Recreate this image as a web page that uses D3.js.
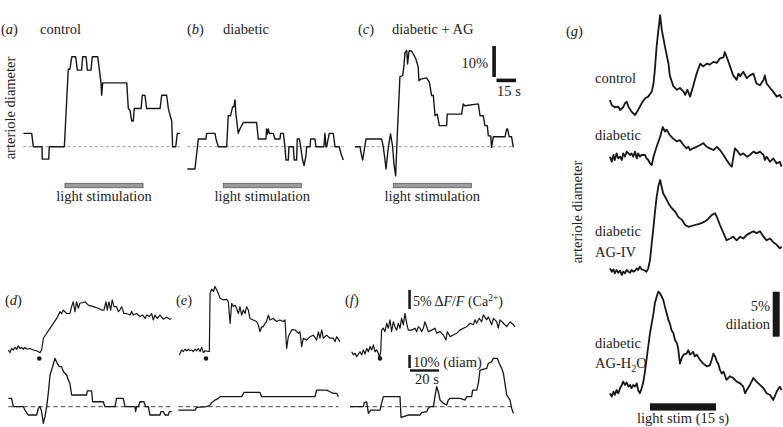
<!DOCTYPE html>
<html>
<head>
<meta charset="utf-8">
<script src="https://cdn.jsdelivr.net/npm/d3@7"></script>
<style>
  html, body { margin: 0; padding: 0; background: #fff; }
  svg { display: block; font-family: "Liberation Serif", "Times New Roman", serif; }
  text { fill: #222; font-size: 14.5px; }
</style>
</head>
<body>
<svg id="fig" width="783" height="427"></svg>
<script>
// ---- data: (a)-(c) arteriole diameter, [time s from light onset, % change] ----
const STIM_TOP = [0, 60];
const diamControl = [[-32,4.3],[-25.6,4.3],[-24.4,0],[-17.7,0],[-17.5,-4],[-12.5,-4],[-12.1,0],[-0.5,0],[2.5,25],[3.8,25],[5.2,29],[8.2,29],[9.5,24.7],[12.8,24.7],[13.6,29],[16.2,29],[17.2,24.7],[20,24.7],[21,29],[25.2,29],[27.7,20.6],[28.2,16.6],[29,20.6],[47.5,20.6],[48.7,12.3],[50,11.7],[51.3,8.3],[52.5,8.3],[53.3,12.3],[58.5,12.3],[59.5,16.6],[61.5,16.6],[62.8,12.3],[73.1,12.3],[74.4,16.6],[78.2,16.6],[79.5,12.3],[80.8,10.2],[82.1,8.3],[82.8,0],[85.2,0],[86.4,4.3],[88.5,4.3]];
const diamDiabetic = [[-27.7,-7.2],[-21.8,-7.2],[-19.2,2.5],[-13.3,2.5],[-12.8,4.3],[-6.4,4.3],[-5.6,2.5],[-3.8,0],[2.6,0],[3.8,10],[5.6,10],[7.2,12.9],[8.2,12.9],[9,15.1],[9.7,10.5],[11.5,4.3],[12.8,5.7],[15.4,7.8],[25.6,7.8],[26.9,2.5],[32.8,2.5],[33.3,5.7],[33.8,4.1],[34.6,5.7],[35.4,4.3],[38.5,4.3],[39.7,2.5],[43.6,2.5],[44.1,4.3],[46.2,4.3],[47.4,0],[48.2,-4.3],[50,-4.3],[50.5,0],[53.8,0],[54.6,-4.3],[56.4,-4.3],[56.9,2.5],[58.5,2.5],[59.5,0],[61,-4.3],[62.1,-6.1],[63.6,-2.9],[64.1,0],[66.7,0],[67.2,2.5],[70.5,2.5],[71.3,0],[77.4,0],[78.2,4.3],[79,0],[79.5,0],[81.5,4.3],[84.6,4.3],[85.9,0],[89.2,0],[90.5,-2.2],[92.3,-4.3]];
const diamDiabeticAG = [[-29.5,0],[-25.6,0],[-24.9,-1.8],[-23.6,-4.3],[-22.6,-1.8],[-21,2.5],[-9,2.5],[-7.7,0],[-6.4,-4.3],[-5.6,-7.2],[-3.8,0],[-2.1,4.1],[-0.5,0],[0.5,-5.6],[1.8,-9.4],[3.1,4.1],[5.1,22.6],[7.2,22.9],[8.2,26.1],[9,30.4],[10.3,31],[11,26.7],[11.8,29.9],[12.3,31],[14.1,30.8],[15.4,29.9],[17.4,28.3],[19.2,25.6],[19.7,21.3],[21,21.8],[25.6,22.2],[27.7,20.8],[29.5,16.5],[30.8,16.5],[32.1,10],[33.8,10.5],[35.4,6.8],[41,6.8],[41.5,10.5],[52.6,10.5],[53.8,13.8],[55.1,13.2],[65.4,13.8],[66.7,10],[69.2,10],[70.5,6.8],[72.3,6.8],[73.1,3.5],[74.9,3.5],[75.6,-0.2],[76.9,3.2],[85.9,3.2],[87.2,5.7],[87.9,5.7],[89.2,3.2],[91,3.2],[92.3,-0.2]];

// ---- data: (d)-(f) Ca2+ (ΔF/F %) and diameter (%), [time s from stim, value] ----
const caD = [[-21.4,0],[-20.2,-0.7],[-19.1,0.4],[-17.9,0],[-16.8,0.7],[-15.6,0.2],[-14.5,1.1],[-13.3,0.4],[-12.2,0.7],[-11,0.2],[-9.9,0.7],[-8.7,0.2],[-6.4,0.4],[-4.1,0],[-1.8,-0.2],[0.5,-0.7],[1.6,0],[2.8,3.1],[5.1,4.4],[7.4,5.7],[9.7,7],[12,8.3],[14.3,10.1],[15.4,9.6],[16.6,10.5],[18.9,9.6],[21.1,9.6],[22.3,11.4],[23.4,12.7],[24.6,10.1],[25.7,12.7],[26.9,11],[28,12.3],[30.3,12.5],[31.5,12.7],[33.8,11.8],[37.2,11.4],[40.7,11],[43,10.5],[44.6,10.5],[46,12.7],[46.9,10.5],[48,12.7],[49.2,10.5],[50.3,13.2],[51.5,11.4],[53.3,11.4],[54.5,10.1],[55.6,10.5],[56.8,11.4],[58.4,9.6],[60.2,9.6],[62.5,9.2],[63.7,10.1],[64.8,9.2],[67.1,9.6],[69.4,8.8],[71.3,9.2],[72.9,8.3],[74,9.2],[75.9,8.8],[77.5,9.6],[78.6,7.9],[79.8,9.2],[81.4,8.3],[83.2,9.2],[85.5,8.1],[87.8,8.6],[90.1,8.1],[91.3,8.3]];
const dmD = [[-21.4,6.4],[-19.1,6.4],[-17.9,0],[-11,0],[-9.9,-2.6],[-7.6,-6.4],[-1.8,-6.4],[-0.7,-1.3],[0.5,0],[1.6,-3.8],[2.8,-12.8],[3.9,-7.7],[5.1,0],[6.2,10.3],[7.4,24.4],[9.2,30.8],[10.8,37.2],[12.4,33.3],[13.8,30.8],[15.4,30.8],[16.6,26.9],[18.9,24.4],[20,20.5],[21.1,17.9],[22.3,9],[32.6,9],[33.1,12.1],[36.1,12.1],[36.8,3.8],[44.1,3.8],[45.3,0],[52.2,0],[53.3,6.4],[57.9,6.4],[59.1,0],[66,0],[66.4,-3.8],[67.1,0],[68.3,0],[69.4,3.8],[72.2,3.8],[73.3,0],[75.2,0],[76.3,-6.4],[83.2,-6.4],[83.9,-3.8],[85.5,-3.8],[86.7,-6.4],[89,-6.4],[89.7,-3.8],[91.3,-3.8]];
const caE = [[-18.4,-1.3],[-16.8,0],[-15.6,-0.4],[-14.5,0.2],[-13.3,-0.2],[-12.2,0.2],[-11,-0.2],[-9.9,0],[-8.7,-0.4],[-7.6,0.2],[-6.4,-0.2],[-5.3,0.4],[-4.1,-0.4],[-3,0.7],[-1.8,-0.7],[-0.7,-0.2],[1.6,-0.4],[2.3,-0.4],[2.8,14.9],[3.9,16],[5.1,15.4],[6.2,16.7],[7.4,15.8],[8.5,14.9],[9.7,13.6],[12,13.2],[14.3,13.3],[15.4,12.7],[16.6,7],[17.7,12.3],[18.9,11.4],[20,11.8],[21.1,11],[22.3,9.6],[23.4,11.4],[24.6,9.2],[25.7,10.5],[26.9,9.6],[28,11.4],[29.2,10.5],[30.3,8.3],[32.6,7.9],[34.9,7.5],[36.1,6.6],[37.2,4.8],[38.4,6.1],[39.5,6.1],[40.7,7],[41.8,7.5],[43,9.2],[44.1,7.9],[46.4,8.3],[48.7,7.5],[51,7.9],[53.3,7.5],[54.5,7.9],[55.6,0.4],[56.8,3.5],[57.9,4.4],[59.1,5.3],[61.4,5.3],[63.7,4.4],[64.8,4.8],[66,0.9],[67.1,3.1],[69.4,2.6],[71.7,3.5],[74,3.9],[76.3,2.6],[77.5,4.8],[78.6,3.1],[79.8,5.3],[80.9,3.1],[83.2,3.9],[85.5,3.1],[87.8,3.1],[89,2.2],[90.1,3.5],[92.4,2.2]];
const dmE = [[-19.1,-2.6],[-7.6,-2.6],[-6.4,-0.5],[0.5,0],[2.8,1.3],[3.9,3.1],[6.2,5.1],[8.5,6.4],[9.7,7.7],[24.6,7.7],[26.2,11],[37.2,11],[38.4,7.7],[75.2,7.7],[76.3,12.8],[83.2,12.8],[85.5,11.5],[87.8,10.3],[90.1,10.3],[91.3,7.7]];
const caF = [[-19.5,0.4],[-18.4,-0.4],[-17.2,0],[-16.1,-0.9],[-14.9,-0.2],[-13.8,0.4],[-12.6,-0.4],[-11.5,0.9],[-10.3,-0.2],[-9.2,1.3],[-8,0.4],[-6.9,1.8],[-5.7,0.9],[-4.6,2.2],[-3.4,0.4],[-2.3,0.9],[-1.1,0],[-0.5,-1.3],[0.5,0.4],[1.1,6.1],[2.3,6.6],[3.4,5.7],[4.6,7.9],[5.7,6.6],[6.9,8.8],[8,5.7],[9.2,8.3],[10.3,7],[11.5,6.1],[12.6,7.9],[13.8,6.6],[14.9,9.2],[16.1,7.5],[17.2,10.5],[18.4,7.9],[19.5,6.1],[21.8,6.1],[24.1,6.6],[25.3,5.7],[26.4,7],[27.6,6.6],[28.7,5.7],[29.9,6.6],[31,8.3],[32.2,7],[33.3,5.7],[35.6,6.1],[37.9,6.6],[39.1,5.3],[41.4,5.7],[43.7,4.8],[45.5,3.5],[46.4,5.7],[48.3,4.4],[50.6,4.8],[52.9,5.3],[55.2,6.1],[57.5,6.6],[59.8,7],[62.1,7.9],[64.4,7.5],[65.5,8.8],[66.7,7.9],[68.5,9.2],[70.1,8.3],[71.3,10.1],[73.6,8.8],[74.7,9.6],[77,7.5],[78.2,9.2],[80.5,8.3],[81.6,6.6],[82.8,8.8],[85.1,7.9],[87.4,7],[89.7,8.3],[92,7.5],[93.1,7]];
const dmF = [[-20.7,0],[-11.5,0],[-10.8,3.1],[-9.2,3.8],[-8,-5.1],[-6.4,-2.6],[0,-2.6],[1.1,2.6],[2.3,7.7],[13.8,7.7],[14.5,-8.2],[19.5,-6.4],[27.6,-6.4],[28.7,-4.6],[32.2,-3.8],[33.3,-1.3],[34.5,0],[36.8,0],[37.9,7.7],[39.1,15.4],[40.2,11.5],[41.4,5.1],[43.7,2.6],[46,1.3],[47.1,5.1],[48.3,6.4],[55.2,6.4],[58.6,5.1],[59.8,7.7],[63.2,7.7],[63.9,12.8],[66.7,12.8],[67.8,17.9],[69,28.2],[73.6,29.5],[74.7,33.3],[77,34.6],[78.2,37.2],[80.9,37.2],[82.3,33.3],[83.9,29.5],[85.1,25.6],[87.4,9],[89.7,5.1],[90.8,-1.3],[92,-5.1]];

// ---- data: (g) dilation (%), [time s from light onset, % change] ----
const STIM_G = [0, 15];
const gControl = [[-9.1,0.37],[-8.7,-0.19],[-8,-0.44],[-7.2,-0.37],[-6.8,-0.74],[-6.1,-0.44],[-5.7,0],[-5.3,0.19],[-4.9,-0.37],[-4.2,-0.93],[-3.4,-1.3],[-2.7,-0.74],[-1.9,0],[-1.1,0.56],[-0.4,0.74],[0.4,1.3],[0.8,2.2],[1.1,3.7],[1.5,6.3],[1.9,8.1],[2.3,9.8],[2.7,8.1],[3.4,6.3],[4.2,4.4],[4.5,3.1],[5.3,1.9],[6.1,1.5],[6.8,1.7],[7.6,1.3],[8,0.93],[8.5,1.5],[9.1,0.74],[9.8,1.9],[10.6,3.3],[11.4,4.4],[12.1,4.1],[12.9,4.4],[13.6,4.3],[14.4,4.6],[15.2,4.5],[15.9,5],[16.7,5.1],[17,5.7],[17.4,5.2],[18.2,4.1],[18.9,3.1],[19.7,2.6],[20.1,3.3],[20.5,3],[21.2,3.5],[22,2.8],[22.7,3.1],[23.5,3.3],[24.2,2.2],[25,2],[25.8,2.6],[26.1,3.1],[26.5,2.2],[27.3,1.7],[28,1.3],[28.8,0.74],[29.5,0.93],[29.9,0.56]];
const gDiabetic = [[-9.1,0],[-8.7,-0.56],[-8.3,0.19],[-8,-0.37],[-7.6,0.37],[-7.2,-0.19],[-6.8,0],[-6.4,-0.37],[-6.1,0.37],[-5.7,0],[-5.3,0.56],[-4.5,0.19],[-4.2,0.37],[-3.8,0],[-3.4,0.56],[-3,-0.19],[-2.7,0.37],[-2.3,0],[-1.9,0.19],[-1.1,0.19],[-0.8,-0.19],[-0.4,-0.37],[0,-0.74],[0.4,-0.93],[0.8,0],[1.5,1.1],[2.3,2.2],[2.9,3.3],[3.4,2.8],[3.8,3],[4.5,2.4],[5.3,2],[6.1,1.7],[6.8,1.85],[7.6,1.3],[8.3,0.93],[8.7,1.1],[9.1,0.74],[9.8,0.93],[10.6,1.1],[11.4,1.3],[12.1,1.5],[12.9,1.1],[13.6,0.93],[14.4,0.74],[15.2,1.1],[15.9,0.74],[16.7,0.19],[17.4,-0.37],[18.2,-0.93],[18.6,-1.1],[18.9,-0.19],[19.3,0.93],[19.7,0.74],[20.5,0.19],[21.2,0.37],[22,0],[22.7,0.19],[23.5,0.56],[24.2,0.37],[25,0.56],[25.8,0.19],[26.1,-0.37],[26.5,0],[27.3,-0.56],[28,-0.19],[28.8,-0.74],[29.5,-0.56],[29.9,-1.1]];
const gAgIV = [[-9.1,0.19],[-8.7,-0.19],[-8.3,0.07],[-8,-0.37],[-7.6,0],[-7.2,-0.3],[-6.8,-0.07],[-6.4,-0.56],[-6.1,-0.19],[-5.7,-0.37],[-5.3,0],[-4.9,-0.19],[-4.5,-0.3],[-4.2,0],[-3.8,-0.19],[-3.4,-0.07],[-3,0.19],[-2.7,0],[-2.3,0.37],[-1.9,0.07],[-1.5,0],[-1.1,-0.07],[-0.8,-0.19],[-0.4,0.19],[0,1.1],[0.4,3],[0.8,4.8],[1.1,6.3],[1.5,8.1],[1.9,9.3],[2.3,10],[3,8.5],[3.8,7.8],[4.2,7.4],[4.9,6.9],[5.7,6.5],[6.4,5.9],[7.2,5.6],[8,5],[8.7,4.8],[9.5,4.9],[10.2,5],[11,5.1],[11.7,5.2],[12.5,5.4],[13.3,5.7],[14,6.1],[14.8,6.3],[15.2,5.9],[15.9,5],[16.7,4.1],[17.4,3.3],[18.2,3.5],[18.9,3.7],[19.7,3.3],[20.5,3.7],[21.2,3.5],[22,3.9],[22.7,4.1],[23.5,4.3],[24.2,4.1],[25,4.3],[25.8,3.7],[26.5,3.3],[27.3,3.5],[28,3.1],[28.8,2.8],[29.5,2.4],[29.9,2.6]];
const gAgH2O = [[-9.1,0],[-8.7,-0.37],[-8.3,0.19],[-8,-0.19],[-7.6,0.37],[-7.2,0],[-6.8,0.56],[-6.4,0.93],[-6.1,1.3],[-5.7,0.93],[-5.3,1.2],[-4.9,0.74],[-4.5,0.93],[-4.2,0.56],[-3.8,0.93],[-3.4,0.74],[-3,1.1],[-2.7,0.37],[-2.3,0],[-1.9,0.56],[-1.5,1.3],[-1.1,2.6],[-0.8,3.7],[-0.4,5.2],[0,6.7],[0.4,7.8],[0.8,8.9],[1.1,10],[1.5,10.7],[1.9,11.3],[2.3,11.1],[2.7,10.7],[3,10.4],[3.4,9.6],[3.8,8.9],[4.2,8.1],[4.5,7.8],[4.9,7],[5.3,6.7],[5.7,5.9],[6.1,5.6],[6.4,5],[6.8,3.3],[7.2,3.9],[7.6,4.3],[8.3,4.4],[8.7,4.8],[9.1,4.3],[9.8,4.6],[10.2,4.1],[10.6,4.3],[11.4,3.7],[12.1,3.3],[12.9,3],[13.6,3.1],[14,3.7],[14.4,4.4],[14.8,4.1],[15.2,3.5],[15.5,3.3],[15.9,2.6],[16.3,2.2],[16.7,2.4],[17.4,1.5],[18.2,1.9],[18.9,1.7],[19.7,1.3],[20.5,1.1],[21.2,0.74],[21.6,0],[22,0.37],[22.7,0.93],[23.5,1.7],[24.2,1.3],[25,0.93],[25.8,0.56],[26.5,0],[27.3,-0.19],[28,-0.74],[28.8,0.19],[29.5,0.74],[29.9,0.37]];

(function () {
  'use strict';
  const svg = d3.select('#fig');
  const INK = '#161616';

  function trace(g, data, x, y, w) {
    g.append('path').datum(data)
      .attr('d', d3.line().x((d) => x(d[0])).y((d) => y(d[1])))
      .attr('fill', 'none').attr('stroke', INK)
      .attr('stroke-width', w).attr('stroke-linejoin', 'round');
  }
  function baseline(g, data, x, y, style) {
    g.append('line')
      .attr('x1', x(data[0][0])).attr('x2', x(data[data.length - 1][0]))
      .attr('y1', y(0)).attr('y2', y(0))
      .attr('stroke', style.color).attr('stroke-width', style.w)
      .attr('stroke-dasharray', style.dash);
  }
  // "(a)" style letter with italic character
  function panelLetter(x, yb, ch) {
    const t = svg.append('text').attr('x', x).attr('y', yb);
    t.append('tspan').text('(');
    t.append('tspan').attr('font-style', 'italic').text(ch);
    t.append('tspan').text(')');
  }
  function vlabel(x, y, s) {
    svg.append('text').attr('transform', `translate(${x},${y}) rotate(-90)`)
      .attr('text-anchor', 'middle').text(s);
  }

  // ---- top row (a)-(c) ----
  const topPanels = [
    { ch: 'a', title: 'control', data: diamControl, stimX: 65, lx: 1, tx: 40 },
    { ch: 'b', title: 'diabetic', data: diamDiabetic, stimX: 223.3, lx: 187, tx: 223 },
    { ch: 'c', title: 'diabetic + AG', data: diamDiabeticAG, stimX: 393.3, lx: 358, tx: 392 },
  ];
  topPanels.forEach((p) => {
    const x = d3.scaleLinear().domain(STIM_TOP).range([p.stimX, p.stimX + 78]);
    const y = d3.scaleLinear().domain([0, 10]).range([146.7, 115.7]);
    const g = svg.append('g');
    baseline(g, p.data, x, y, { color: '#7a7a7a', w: 0.8, dash: '3,2.5' });
    trace(g, p.data, x, y, 1.4);
    g.append('rect').attr('x', x(STIM_TOP[0])).attr('y', 183.3)
      .attr('width', x(STIM_TOP[1]) - x(STIM_TOP[0])).attr('height', 4.4)
      .attr('fill', '#9c9c9c').attr('stroke', '#5a5a5a').attr('stroke-width', 0.8);
    g.append('text').attr('x', x((STIM_TOP[0] + STIM_TOP[1]) / 2)).attr('y', 201)
      .attr('text-anchor', 'middle').text('light stimulation');
    panelLetter(p.lx, 34, p.ch);
    svg.append('text').attr('x', p.tx).attr('y', 34).text(p.title);

    if (p.ch === 'c') {
      // scale bars 10% / 15 s
      g.append('rect').attr('x', 492.3).attr('y', 46)
        .attr('width', 3.6).attr('height', y(0) - y(10)).attr('fill', INK);
      g.append('rect').attr('x', 496.5).attr('y', 78.6)
        .attr('width', x(15) - x(0)).attr('height', 3.6).attr('fill', INK);
      g.append('text').attr('x', 488).attr('y', 68).attr('text-anchor', 'end').text('10%');
      g.append('text').attr('x', 497).attr('y', 96).text('15 s');
    }
  });
  vlabel(15, 108, 'arteriole diameter');

  // ---- bottom row (d)-(f) ----
  const botPanels = [
    { ch: 'd', ca: caD, dm: dmD, x0: 39.3, caBase: 350, lx: 5 },
    { ch: 'e', ca: caE, dm: dmE, x0: 206, caBase: 350, lx: 176 },
    { ch: 'f', ca: caF, dm: dmF, x0: 380, caBase: 353.3, lx: 345 },
  ];
  botPanels.forEach((p) => {
    const x = d3.scaleLinear().domain([0, 20]).range([p.x0, p.x0 + 29]);
    const yCa = d3.scaleLinear().domain([0, 5]).range([p.caBase, p.caBase - 19]);
    const yDm = d3.scaleLinear().domain([0, 10]).range([406.7, 393.7]);
    const g = svg.append('g');
    baseline(g, p.dm, x, yDm, { color: '#333', w: 0.9, dash: '4.5,3' });
    trace(g, p.ca, x, yCa, 1.2);
    trace(g, p.dm, x, yDm, 1.3);
    g.append('circle').attr('cx', x(0)).attr('cy', 358.5).attr('r', 2.3).attr('fill', INK);
    panelLetter(p.lx, 305, p.ch);

    if (p.ch === 'f') {
      g.append('rect').attr('x', 408.3).attr('y', 290)
        .attr('width', 2.5).attr('height', yCa(0) - yCa(5)).attr('fill', INK);
      const ca = g.append('text').attr('x', 413).attr('y', 306).style('font-size', '14px');
      ca.append('tspan').text('5% Δ');
      ca.append('tspan').attr('font-style', 'italic').text('F');
      ca.append('tspan').text('/');
      ca.append('tspan').attr('font-style', 'italic').text('F');
      ca.append('tspan').text(' (Ca');
      ca.append('tspan').attr('dy', -5).style('font-size', '9.5px').text('2+');
      ca.append('tspan').attr('dy', 5).text(')');

      g.append('rect').attr('x', 408.3).attr('y', 355)
        .attr('width', 2.5).attr('height', yDm(0) - yDm(10)).attr('fill', INK);
      g.append('rect').attr('x', 410).attr('y', 369.3)
        .attr('width', x(20) - x(0)).attr('height', 2.4).attr('fill', INK);
      g.append('text').attr('x', 413).attr('y', 366.5).text('10% (diam)');
      g.append('text').attr('x', 415).attr('y', 384).text('20 s');
    }
  });

  // ---- (g) ----
  const gx = d3.scaleLinear().domain(STIM_G).range([650, 716]);
  const gTraces = [
    { data: gControl, base: 103.3 },
    { data: gDiabetic, base: 156.7 },
    { data: gAgIV, base: 270 },
    { data: gAgH2O, base: 393.3 },
  ];
  const gg = svg.append('g');
  gTraces.forEach((tr) => {
    const y = d3.scaleLinear().domain([0, 5]).range([tr.base, tr.base - 45]);
    trace(gg, tr.data, gx, y, 1.8);
  });
  panelLetter(566, 36, 'g');
  svg.append('text').attr('x', 595).attr('y', 83).text('control');
  svg.append('text').attr('x', 595).attr('y', 140).text('diabetic');
  svg.append('text').attr('x', 595).attr('y', 236).text('diabetic');
  svg.append('text').attr('x', 595).attr('y', 257).text('AG-IV');
  svg.append('text').attr('x', 595).attr('y', 348).text('diabetic');
  const h2o = svg.append('text').attr('x', 595).attr('y', 368);
  h2o.append('tspan').text('AG-H');
  h2o.append('tspan').attr('dy', 4).style('font-size', '10px').text('2');
  h2o.append('tspan').attr('dy', -4).text('O');
  vlabel(582, 212, 'arteriole diameter');

  // 5% dilation scale bar
  const ySc = d3.scaleLinear().domain([0, 5]).range([336.7, 291.7]);
  gg.append('rect').attr('x', 772.7).attr('y', ySc(5))
    .attr('width', 7).attr('height', ySc(0) - ySc(5)).attr('fill', INK);
  svg.append('text').attr('x', 770).attr('y', 311).attr('text-anchor', 'end').text('5%');
  svg.append('text').attr('x', 770).attr('y', 329).attr('text-anchor', 'end').text('dilation');

  // light stim bar
  gg.append('rect').attr('x', gx(STIM_G[0])).attr('y', 403.3)
    .attr('width', gx(STIM_G[1]) - gx(STIM_G[0])).attr('height', 7.3).attr('fill', INK);
  svg.append('text').attr('x', gx(7.5)).attr('y', 423).attr('text-anchor', 'middle')
    .text('light stim (15 s)');
})();
</script>
</body>
</html>
